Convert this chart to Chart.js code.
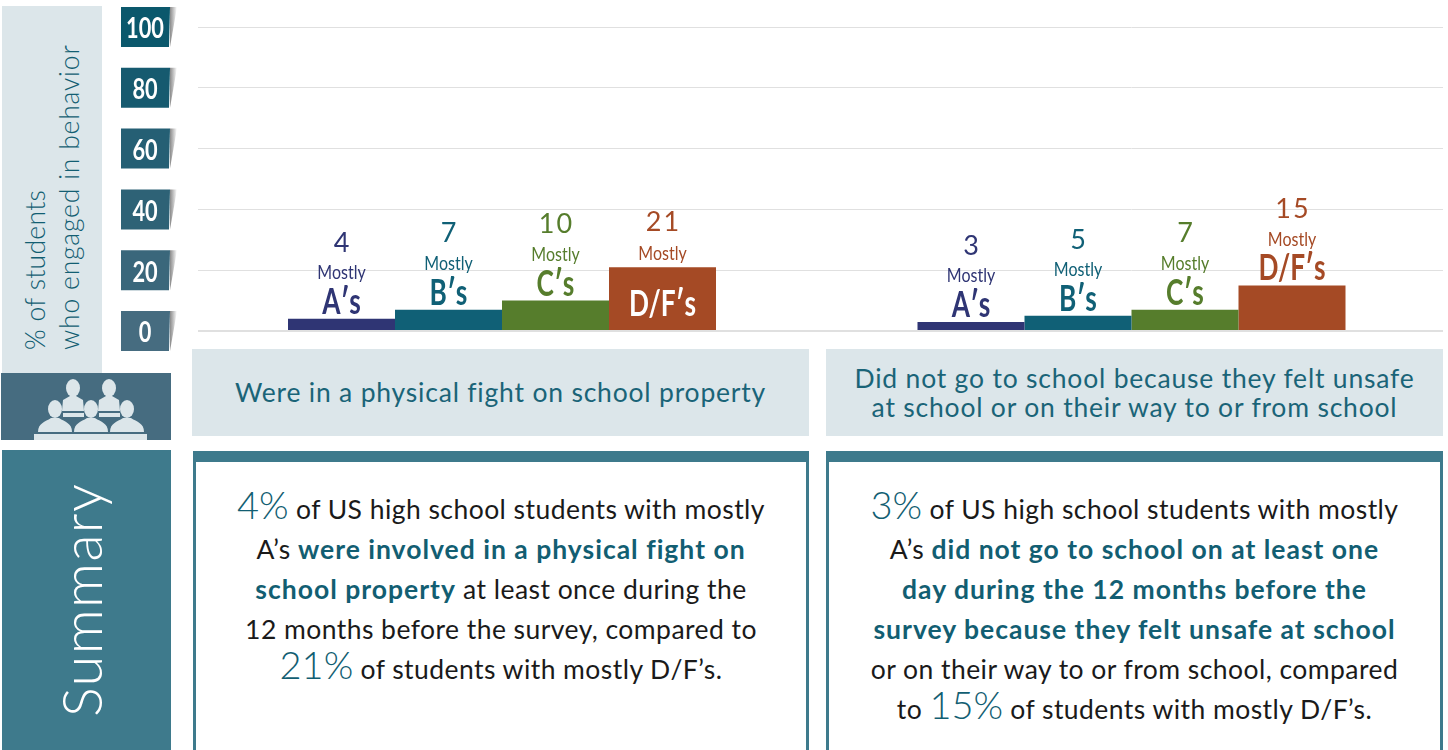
<!DOCTYPE html>
<html>
<head>
<meta charset="utf-8">
<script src="https://cdn.jsdelivr.net/npm/chart.js@4"></script>
<style>
  html, body { margin: 0; padding: 0; background: #fff; width: 1448px; height: 750px; overflow: hidden; }
  body { font-family: Lato, sans-serif; color: #1a1a1a; }
  .abs { position: absolute; }
  .light { background: #dce6ea; }
  .title { display: flex; align-items: center; justify-content: center; text-align: center; top: 349px; height: 87px;
    font-size: 26.5px; line-height: 29px; color: #1a6478; letter-spacing: 0.8px; }
  .card { top: 451px; height: 299px; box-sizing: border-box; border: 3px solid #3e7a8c; border-top: 11px solid #3e7a8c; border-bottom: 0; }
  .text { top: 489px; text-align: center; font-size: 26.5px; line-height: 40px; white-space: nowrap; letter-spacing: 0.45px; font-weight: 400; }
  .text b { color: #125e72; font-weight: 700; letter-spacing: 1px; }
  .text .big { color: #125e72; font-size: 38px; line-height: 0; font-weight: 300; letter-spacing: 0; }
  .ylab { left: 18px; top: 350px; transform-origin: 0 0; transform: rotate(-90deg); white-space: nowrap; color: #125e72;
    font-size: 26.5px; line-height: 34px; font-weight: 300; letter-spacing: 0.8px; }
  .ylab span { letter-spacing: 0.3px; }
  .summary { left: 48px; top: 717px; transform-origin: 0 0; transform: rotate(-90deg); white-space: nowrap; color: #fff;
    font-size: 56px; line-height: 66px; font-weight: 300; letter-spacing: 1.3px; }
</style>
</head>
<body>
  <div class="abs light" style="left:2px;top:6px;width:100px;height:367px"></div>
  <div class="abs ylab"><span>% of students</span><br>who engaged in behavior</div>
  <svg class="abs" style="left:1px;top:373px" width="170" height="67" viewBox="0 0 170 67">
    <rect width="170" height="67" fill="#466c80"/>
    <g fill="#dce6ea">
      <ellipse cx="72" cy="15" rx="7" ry="9"/><ellipse cx="108" cy="15" rx="7" ry="9"/>
      <path d="M62 27 L69 23 H75 L82 27 L83 38 H61 Z M98 27 L105 23 H111 L118 27 L119 38 H97 Z"/>
      <rect x="62" y="40" width="21" height="4"/><rect x="98" y="40" width="21" height="4"/>
      <ellipse cx="54" cy="36" rx="7" ry="9"/><ellipse cx="90" cy="36" rx="7" ry="9"/><ellipse cx="126" cy="36" rx="7" ry="9"/>
      <path d="M37 59 C37 50 44 49 50 45 H58 C64 49 71 50 71 59 Z M73 59 C73 50 80 49 86 45 H94 C100 49 107 50 107 59 Z M109 59 C109 50 116 49 122 45 H130 C136 49 143 50 143 59 Z"/>
      <rect x="33" y="61" width="113" height="6"/>
    </g>
  </svg>
  <div class="abs" style="left:2px;top:450px;width:169px;height:300px;background:#3e7a8c"></div>
  <div class="abs summary">Summary</div>

  <canvas id="chartFight" class="abs" style="left:104px;top:0" width="702" height="355"></canvas>
  <div class="abs" style="left:805px;top:0;width:638px;height:340px;overflow:hidden">
    <canvas id="chartUnsafe" width="653" height="355"></canvas>
  </div>

  <div class="abs light title" style="left:192px;width:617px">Were in a physical fight on school property</div>
  <div class="abs light title" style="left:826px;width:617px">Did not go to school because they felt unsafe<br>at school or on their way to or from school</div>

  <div class="abs card" style="left:193px;width:616px"></div>
  <div class="abs card" style="left:826px;width:617px"></div>
  <div class="abs text" style="left:193px;width:616px">
    <span class="big">4%</span> of US high school students with mostly<br>
    A’s <b>were involved in a physical fight on</b><br>
    <b>school property</b> at least once during the<br>
    12 months before the survey, compared to<br>
    <span class="big">21%</span> of students with mostly D/F’s.
  </div>
  <div class="abs text" style="left:826px;width:617px">
    <span class="big">3%</span> of US high school students with mostly<br>
    A’s <b>did not go to school on at least one</b><br>
    <b>day during the 12 months before the</b><br>
    <b>survey because they felt unsafe at school</b><br>
    or on their way to or from school, compared<br>
    to <span class="big">15%</span> of students with mostly D/F’s.
  </div>

<script>
const grades = ["A′s", "B′s", "C′s", "D/F′s"];
const gradeColors = ['#2f3574', '#106076', '#567d2c', '#a54a25'];
const fightValues = [4, 7, 10, 21];
const unsafeValues = [3, 5, 7, 15];
const yTicks = [0, 20, 40, 60, 80, 100];
const tickBoxColors = ['#466c80', '#3a677b', '#2e6276', '#255f74', '#165a6f', '#0b586c'];

// no condensed face is installed, so squeeze Lato horizontally
function squeezed(c, text, x, y, sx) {
  c.save();
  c.translate(x, y);
  c.scale(sx, 1);
  c.fillText(text, 0, 0);
  c.restore();
}

// value, "Mostly" and the grade stacked on top of every bar
const barLabels = {
  id: 'barLabels',
  afterDatasetsDraw(chart) {
    const c = chart.ctx;
    c.save();
    c.textAlign = 'center';
    c.textBaseline = 'middle';
    chart.data.datasets.forEach((ds, i) => {
      const bar = chart.getDatasetMeta(i).data[0];
      const value = ds.data[0];
      const inside = value >= 20;
      c.fillStyle = gradeColors[i];
      c.font = '27px Lato, sans-serif';
      c.letterSpacing = '2px';
      c.fillText(value, bar.x + 1, bar.y - (inside ? 45 : 76));
      c.letterSpacing = '0px';
      c.font = '20px Lato, sans-serif';
      squeezed(c, 'Mostly', bar.x, bar.y - (inside ? 14 : 46), 0.8);
      c.font = 'bold 37px Lato, sans-serif';
      if (inside) c.fillStyle = '#fff';
      squeezed(c, grades[i], bar.x, inside ? bar.y + 37 : bar.y - 17, 0.71);
    });
    c.restore();
  }
};

// dark slanted boxes and the y tick labels on them
const tickBoxes = {
  id: 'tickBoxes',
  beforeDraw(chart) {
    const c = chart.ctx;
    const y = chart.scales.y;
    c.save();
    c.textAlign = 'center';
    c.textBaseline = 'middle';
    y.ticks.forEach((t) => {
      const i = yTicks.indexOf(t.value);
      const py = y.getPixelForValue(t.value);
      const shade = c.createLinearGradient(66, 0, 73, 0);
      shade.addColorStop(0, '#8a8a8a');
      shade.addColorStop(1, '#ffffff');
      c.fillStyle = shade;
      c.beginPath();
      c.moveTo(66, py - 20);
      c.lineTo(73, py - 20);
      c.lineTo(66, py + 20);
      c.fill();
      c.fillStyle = tickBoxColors[i];
      c.beginPath();
      c.moveTo(17, py - 20);
      c.lineTo(66, py - 20);
      c.lineTo(65, py + 20);
      c.lineTo(17, py + 20);
      c.fill();
      c.fillStyle = '#fff';
      c.font = 'bold 29px Lato, sans-serif';
      squeezed(c, t.label, 41, py + 2, 0.75);
    });
    c.restore();
  }
};

function makeChart(id, title, values, showTicks) {
  const canvas = document.getElementById(id);
  return new Chart(canvas, {
    type: 'bar',
    data: {
      labels: [title],
      datasets: grades.map((g, i) => ({
        label: 'Mostly ' + g,
        data: [values[i]],
        backgroundColor: gradeColors[i],
        barPercentage: 1,
        categoryPercentage: 428 / (canvas.width - (showTicks ? 94 : 0))
      }))
    },
    options: {
      responsive: false,
      animation: false,
      layout: { padding: { top: 27, bottom: 24 } },
      plugins: { legend: { display: false }, tooltip: { enabled: false } },
      scales: {
        x: { display: false },
        y: {
          min: 0,
          max: 100,
          afterFit(scale) { scale.width = showTicks ? 94 : 0; },
          border: { display: false },
          grid: {
            drawTicks: false,
            color: '#e0e0e0',
            lineWidth: (ctx) => (ctx.tick && ctx.tick.value === 0 ? 2 : 1)
          },
          ticks: { display: false, stepSize: 20 }
        }
      }
    },
    plugins: showTicks ? [tickBoxes, barLabels] : [barLabels]
  });
}

makeChart('chartFight', 'Were in a physical fight on school property', fightValues, true);
makeChart('chartUnsafe', 'Did not go to school because they felt unsafe', unsafeValues, false);
</script>
</body>
</html>
